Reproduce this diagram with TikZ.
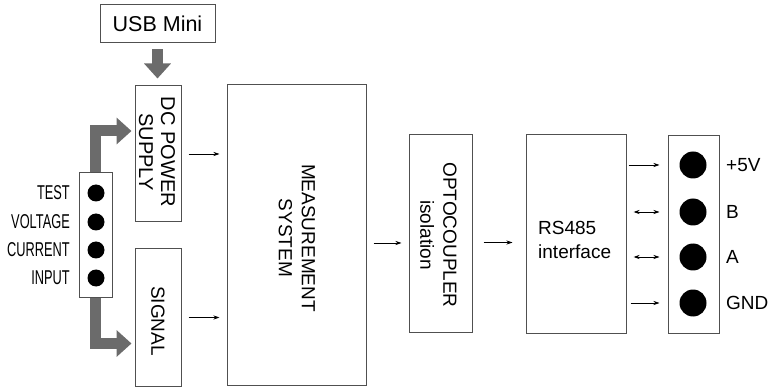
\documentclass[tikz,border=0pt]{standalone}
\usepackage{fontspec}
\setmainfont{Liberation Sans}
\usetikzlibrary{arrows.meta,calc}

\definecolor{fatgray}{HTML}{6B6B6B}
\definecolor{linegray}{HTML}{505050}

\tikzset{
	blockbox/.style={draw=linegray, line width=1pt, inner sep=0pt},
	fatarrow/.style={fatgray, line width=11pt, -{Triangle[length=15pt,width=26pt]}},
	sigarrow/.style={black, line width=0.8pt, -{Stealth[length=6pt,width=4pt]}},
	busarrow/.style={black, line width=0.8pt, {Stealth[length=6pt,width=4pt]}-{Stealth[length=6pt,width=4pt]}},
	pindot/.style={circle, fill=black, inner sep=0pt, minimum size=#1},
	vtext/.style={rotate=-90, align=center, inner sep=0pt},
}

\begin{document}
\begin{tikzpicture}[x=1pt,y=-1pt]
	\useasboundingbox (0,0) rectangle (774,390);
	
	% supply side
	\node[blockbox, minimum width=115pt, minimum height=38pt, font=\fontsize{21.5}{24}\selectfont] (usb) at (157.5,24) {USB Mini};
	\node[blockbox, minimum width=46pt, minimum height=136pt] (dc) at (158,154) {};
	\node[vtext, font=\fontsize{20}{22}\selectfont] (dctext) at (157,152) {DC POWER\\SUPPLY};
	\node[blockbox, minimum width=46pt, minimum height=137pt] (sig) at (158,317.5) {};
	\node[vtext, font=\fontsize{19}{22}\selectfont] (sigtext) at (158,321) {SIGNAL};
	
	% input connector
	\node[blockbox, minimum width=33pt, minimum height=124pt] (strip) at (95.5,235) {};
	\foreach \y [count=\i] in {193,222,250,278}
	{
		\node[pindot=17pt] (in\i) at (96,\y) {};
	}
	\foreach \lab [count=\i] in {TEST,VOLTAGE,CURRENT,INPUT}
	{
		\node[anchor=east, inner sep=0pt, font=\fontsize{20}{22}\selectfont] (inlab\i) at ([xshift=-26pt]in\i.center) {\scalebox{0.64}[1]{\lab}};
	}
	
	% processing chain
	\node[blockbox, minimum width=139pt, minimum height=300pt] (meas) at (296.5,235) {};
	\node[vtext, font=\fontsize{19}{23}\selectfont] (meastext) at (297,238) {MEASUREMENT\\SYSTEM};
	\node[blockbox, minimum width=63pt, minimum height=197pt] (opto) at (440.5,233.5) {};
	\node[vtext, font=\fontsize{19}{23}\selectfont] (optotext) at (438.5,235) {OPTOCOUPLER\\isolation};
	\node[blockbox, minimum width=100pt, minimum height=198pt] (rs) at (576,234) {};
	\node[anchor=west, align=left, inner sep=0pt, font=\fontsize{19}{24}\selectfont] (rstext) at (538,240) {RS485\\interface};
	
	% output connector
	\node[blockbox, minimum width=51pt, minimum height=197pt] (term) at (693.5,234.5) {};
	\foreach \y [count=\i] in {165,212,257,303}
	{
		\node[pindot=27pt] (out\i) at (693,\y) {};
	}
	\foreach \lab [count=\i] in {+5V,B,A,GND}
	{
		\node[anchor=west, inner sep=0pt, font=\fontsize{19}{22}\selectfont] (outlab\i) at ([xshift=33pt]out\i.center) {\lab};
	}
	
	% fat arrows
	\draw[fatarrow, shorten <=6pt, shorten >=7pt] (usb.south) -- (usb.south |- dc.north);
	\draw[fatarrow, shorten >=3pt] (strip.north) |- ([yshift=23pt]dc.west);
	\draw[fatarrow, shorten >=3pt] (strip.south) |- ([yshift=-26pt]sig.west);
	
	% signal arrows
	\draw[sigarrow, shorten <=7pt, shorten >=7pt] (dc.east) -- (meas.west |- dc.east);
	\draw[sigarrow, shorten <=7pt, shorten >=7pt] (sig.east) -- (meas.west |- sig.east);
	\draw[sigarrow, shorten <=7pt, shorten >=7pt] ([yshift=-8pt]meas.east) -- ([yshift=-8pt]meas.east -| opto.west);
	\draw[sigarrow, shorten <=11pt, shorten >=13pt] ([yshift=-9pt]opto.east) -- ([yshift=-9pt]opto.east -| rs.west);
	
	\draw[sigarrow, shorten <=2pt, shorten >=8pt] (rs.east |- out1) -- (term.west |- out1);
	\draw[busarrow, shorten <=7pt, shorten >=8pt] (rs.east |- out2) -- (term.west |- out2);
	\draw[busarrow, shorten <=7pt, shorten >=8pt] (rs.east |- out3) -- (term.west |- out3);
	\draw[sigarrow, shorten <=4pt, shorten >=8pt] (rs.east |- out4) -- (term.west |- out4);
	
\end{tikzpicture}
\end{document}
